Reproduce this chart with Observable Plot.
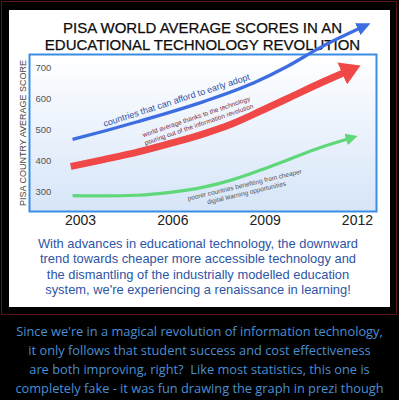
<!DOCTYPE html>
<html><head><meta charset="utf-8">
<script src="https://cdn.jsdelivr.net/npm/d3@7"></script>
<script src="https://cdn.jsdelivr.net/npm/@observablehq/plot@0.6"></script>
<style>
html,body{margin:0;padding:0;background:#000;width:399px;height:400px;overflow:hidden;}
#outer{position:absolute;left:1px;top:1px;width:396px;height:314px;border:1px solid #5a1616;box-sizing:border-box;}
#white{position:absolute;left:9px;top:10px;width:381px;height:297px;background:#fff;}
#title{position:absolute;left:0;top:19px;width:405px;text-align:center;font:15px "Liberation Sans",Arial,sans-serif;line-height:17px;color:#0d0d0d;-webkit-text-stroke:0.25px #0d0d0d;}
#chart{position:absolute;left:0;top:0;}
#body{position:absolute;left:0;top:236px;width:396px;text-align:center;font:12.9px "Liberation Sans",Arial,sans-serif;line-height:15.4px;color:#2d55a6;}
#note{position:absolute;left:0;top:322px;width:399px;text-align:center;font:12.8px "Open Sans",sans-serif;line-height:18.9px;color:#4a8fd2;}
</style></head>
<body>
<div id="outer"></div>
<div id="white"></div>
<div id="title">PISA WORLD AVERAGE SCORES IN AN<br>EDUCATIONAL TECHNOLOGY REVOLUTION</div>
<div id="chart"></div>
<div id="body">With advances in educational technology, the downward<br>trend towards cheaper more accessible technology and<br>the dismantling of the industrially modelled education<br>system, we're experiencing a renaissance in learning!</div>
<div id="note">Since we're in a magical revolution of information technology,<br>it only follows that student success and cost effectiveness<br>are both improving, right?&nbsp; Like most statistics, this one is<br>completely fake - it was fun drawing the graph in prezi though</div>
<script>
// ---- data ----
const xTicks = [2003, 2006, 2009, 2012];
const yTicks = [300, 400, 500, 600, 700];
const yLabel = "PISA COUNTRY AVERAGE SCORE";

const blueYears = [2002.74, 2003.81, 2004.85, 2005.92, 2007.0, 2008.62, 2009.73, 2010.8, 2012.13];
const blueScores = [468, 496, 525, 556, 590, 650, 704, 765, 829];

const redYears = [2002.68, 2003.75, 2004.85, 2005.92, 2007.0, 2007.87, 2008.62, 2009.73, 2010.8, 2011.58];
const redScores = [381, 403, 427, 455, 486, 516, 549, 600, 650, 684];

const greenYears = [2002.74, 2003.75, 2004.85, 2005.92, 2007.0, 2007.87, 2008.85, 2009.73, 2010.8, 2011.74];
const greenScores = [287, 286, 288, 297, 314, 336, 369, 402, 442, 471];

const noteTexts = [
  "countries that can afford to early adopt",
  "world average thanks to the technology\npouring out of the information revolution",
  "poorer countries benefiting from cheaper\ndigital learning opportunities"
];
const noteYears = [2006.12, 2006.8, 2008.36];
const noteScores = [594, 530, 310];
const noteAngles = [-18, -19, -13.5];

// ---- build ----
const pts = (xs, ys) => xs.map((x, i) => ({x, y: ys[i]}));
const notes = noteTexts.map((t, i) => ({t, x: noteYears[i], y: noteScores[i], r: noteAngles[i], i}));
const svgNS = "http://www.w3.org/2000/svg";

function defsMark() {
  const d = document.createElementNS(svgNS, "defs");
  d.innerHTML = `
    <linearGradient id="bg" x1="0" y1="0" x2="0" y2="1">
      <stop offset="0" stop-color="#ffffff"/>
      <stop offset="1" stop-color="#d6e5f8"/>
    </linearGradient>
    <marker id="ahBlue" viewBox="0 0 14 13" markerWidth="14" markerHeight="13" refX="4" refY="6.5" orient="auto" markerUnits="userSpaceOnUse"><path d="M0,0L14,6.5L0,13Z" fill="#3d6de0"/></marker>
    <marker id="ahRed" viewBox="0 0 20 24" markerWidth="20" markerHeight="24" refX="2.5" refY="12" orient="auto" markerUnits="userSpaceOnUse"><path d="M0,0L20,12L0,24Z" fill="#f04747"/></marker>
    <marker id="ahGreen" viewBox="0 0 12 12" markerWidth="12" markerHeight="12" refX="3.5" refY="6" orient="auto" markerUnits="userSpaceOnUse"><path d="M0,0L12,6L0,12Z" fill="#5ed879"/></marker>`;
  return d;
}

const chart = Plot.plot({
  width: 399, height: 230,
  marginLeft: 29, marginRight: 23, marginTop: 54, marginBottom: 19,
  x: {domain: [2001.34, 2012.62]},
  y: {domain: [235.5, 742]},
  style: {background: "transparent", fontFamily: "'Liberation Sans', Arial, sans-serif", overflow: "visible"},
  marks: [
    defsMark,
    Plot.frame({fill: "url(#bg)", stroke: "#3b8de4", strokeWidth: 2}),
    Plot.axisY({ticks: yTicks, tickSize: 0, tickPadding: 0, textAnchor: "start", dx: 6, fontSize: 9.5, fill: "#555", label: null}),
    Plot.text([yLabel], {frameAnchor: "left", textAnchor: "middle", rotate: -90, dx: -6, fontSize: 9, fill: "#444"}),
    Plot.axisX({ticks: xTicks, tickFormat: d => String(d), tickSize: 0, tickPadding: 4, fontSize: 14, fill: "#222", label: null}),
    Plot.line(pts(blueYears, blueScores), {x: "x", y: "y", curve: "monotone-x", stroke: "#3d6de0", strokeWidth: 3.3, strokeLinecap: "butt"}),
    Plot.line(pts(redYears, redScores), {x: "x", y: "y", curve: "monotone-x", stroke: "#f04747", strokeWidth: 7, strokeLinecap: "butt"}),
    Plot.line(pts(greenYears, greenScores), {x: "x", y: "y", curve: "monotone-x", stroke: "#5ed879", strokeWidth: 3.2, strokeLinecap: "butt"}),
    Plot.text(notes.filter(d => d.i === 0), {x: "x", y: "y", text: "t", rotate: "r", fontSize: 9, fill: "#2f4f9e"}),
    Plot.text(notes.filter(d => d.i === 1), {x: "x", y: "y", text: "t", rotate: "r", fontSize: 6.5, fill: "#7a2a3c", lineHeight: 1.25}),
    Plot.text(notes.filter(d => d.i === 2), {x: "x", y: "y", text: "t", rotate: "r", fontSize: 6.5, fill: "#555", lineHeight: 1.25})
  ]
});

const ids = ["ahBlue", "ahRed", "ahGreen"];
chart.querySelectorAll('g[aria-label="line"]').forEach((g, k) => {
  g.querySelectorAll("path").forEach(p => p.setAttribute("marker-end", `url(#${ids[k]})`));
});
document.getElementById("chart").appendChild(chart);
</script>
</body></html>
